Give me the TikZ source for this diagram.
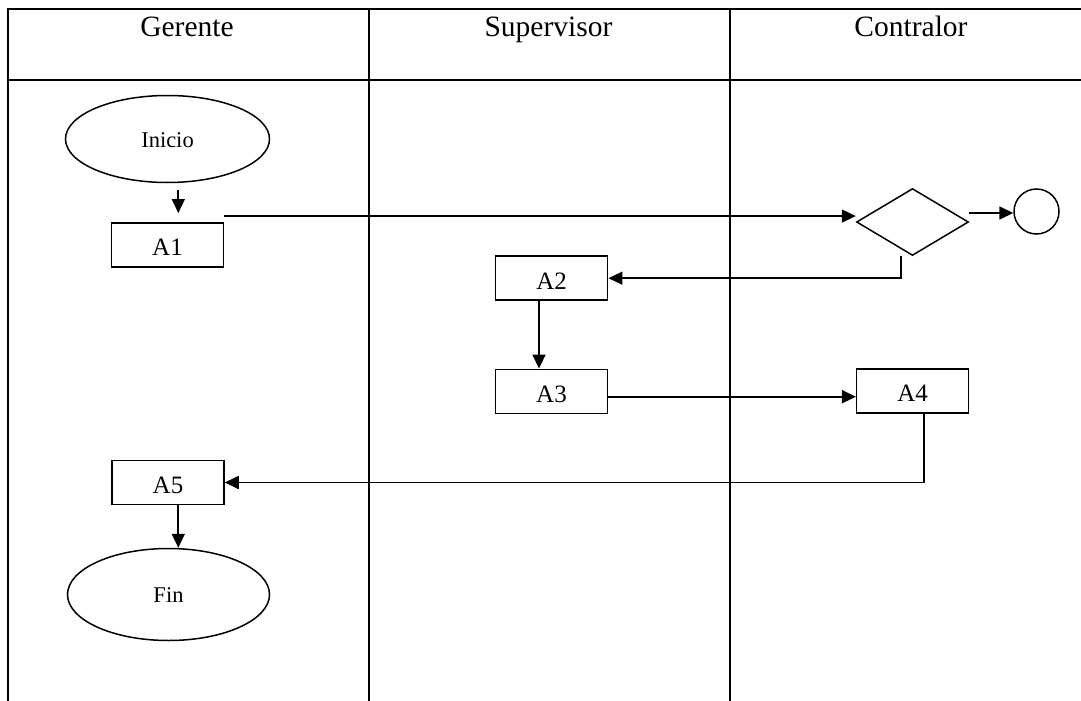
\documentclass[tikz,border=0pt]{standalone}
\usepackage{fontspec}
\setmainfont{Liberation Serif}
\usetikzlibrary{shapes.geometric,arrows.meta}
\begin{document}
\begin{tikzpicture}[x=1pt,y=-1pt,
  tbl/.style={line width=2.2pt},
  box/.style={draw, line width=1.5pt, minimum width=112pt, minimum height=44pt, inner sep=0pt,
    text height=22pt, text depth=0pt, font=\fontsize{25}{29}\selectfont},
  term/.style={draw, ellipse, line width=1.5pt, inner sep=0pt,
    text height=16pt, text depth=0pt, font=\fontsize{22.5}{26}\selectfont},
  arr/.style={line width=1.7pt, -{Triangle[length=14pt,width=13pt]}},
  hdr/.style={anchor=base, font=\fontsize{29.5}{34}\selectfont, inner sep=0pt}]

\useasboundingbox (0,0) rectangle (1081,701);
\fill[white] (0,0) rectangle (1081,701);

% table
\draw[tbl] (8,701) -- (8,9) -- (1081,9);
\draw[tbl] (8,80) -- (1081,80);
\draw[tbl] (369,9) -- (369,701);
\draw[tbl] (730,9) -- (730,701);

\node[hdr] (h1) at (187,37) {Gerente};
\node[hdr] (h2) at (548.5,37) {Supervisor};
\node[hdr] (h3) at (911,37) {Contralor};

% shapes
\node[term, minimum width=204pt, minimum height=87pt] (ini) at (167.5,139) {Inicio};
\node[box] (a1) at (167.5,244.8) {A1};
\node[draw, diamond, line width=1.5pt, minimum width=112pt, minimum height=67pt, inner sep=0pt] (dia) at (912.5,222) {};
\node[draw, circle, line width=1.5pt, minimum size=45pt, inner sep=0pt] (cir) at (1036.5,211.5) {};
\node[box] (a2) at (551.7,278.2) {A2};
\node[box] (a3) at (551.5,391.3) {A3};
\node[box] (a4) at (912.7,390.8) {A4};
\node[box] (a5) at (168,482.5) {A5};
\node[term, minimum width=202pt, minimum height=92pt] (fin) at (168.5,594.5) {Fin};

% connectors
\coordinate (cx1) at (178.3,0);
\coordinate (cx2) at (539,0);
\coordinate (p1) at ([yshift=6pt]a1.north east);
\coordinate (p2) at ([yshift=9pt]dia.east);
\coordinate (p3) at ([yshift=-5.4pt]a3.east);

\draw[arr, shorten <=7pt, shorten >=9pt] (ini.south -| cx1) -- (a1.north -| cx1);
\draw[arr] (p1) -- (p1 -| dia.west);
\draw[arr] (p2) -- (p2 -| cir.west);
\draw[arr] ([xshift=-11.5pt]dia.south) |- (a2.east);
\draw[arr] (a2.south -| cx2) -- (a3.north -| cx2);
\draw[arr] (p3) -- (p3 -| a4.west);
\draw[arr] ([xshift=11.3pt]a4.south) |- (a5.east);
\draw[arr] (a5.south -| cx1) -- (fin.north -| cx1);
\end{tikzpicture}
\end{document}
